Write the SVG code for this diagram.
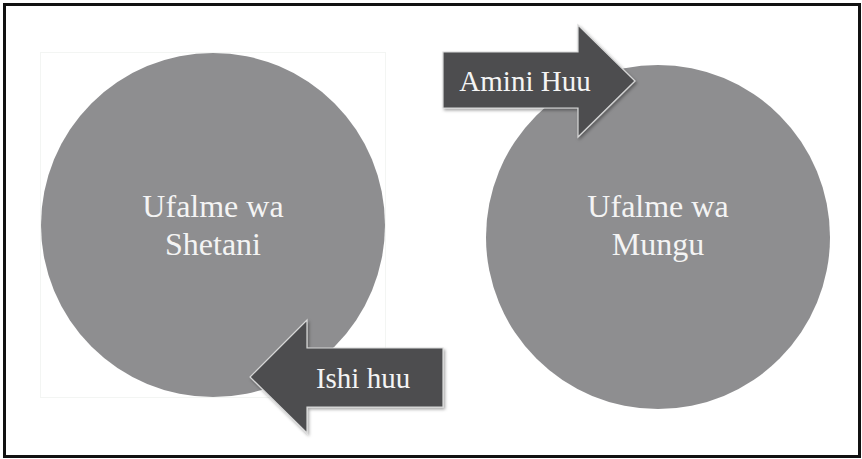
<svg xmlns="http://www.w3.org/2000/svg" width="862" height="459" viewBox="0 0 862 459">
<defs>
<style>
.circ{fill:#8e8e90}
.arr{fill:#4d4e50;stroke:#d8d8d8;stroke-width:1.2;filter:url(#sh)}
.t{font-family:"Liberation Serif","DejaVu Serif",serif;fill:#f4f4f4;text-anchor:middle}
.ct{font-size:32px}
.at{font-size:29px}
</style>
<filter id="sh" x="-10%" y="-10%" width="130%" height="130%">
<feDropShadow dx="1.5" dy="2" stdDeviation="1.5" flood-color="#000" flood-opacity="0.35"/>
</filter>
</defs>
<rect x="0" y="0" width="862" height="459" fill="#fff"/>
<rect x="4.5" y="4.5" width="855" height="452" fill="none" stroke="#111" stroke-width="3"/>
<g id="shetani">
<rect x="40.5" y="52.5" width="345" height="345" fill="none" stroke="#f3f5f3" stroke-width="1"/>
<circle class="circ" cx="213" cy="225" r="172"/>
<text class="t ct" x="213" y="217">Ufalme wa</text>
<text class="t ct" x="213" y="255">Shetani</text>
</g>
<g id="mungu">
<circle class="circ" cx="658" cy="237" r="172"/>
<text class="t ct" x="658" y="217">Ufalme wa</text>
<text class="t ct" x="658" y="255">Mungu</text>
</g>
<g id="connectors">
<g id="amini">
<polygon class="arr" points="443,52 578,52 578,25 635,81 578,137 578,108 443,108"/>
<text class="t at" x="525" y="91">Amini Huu</text>
</g>
<g id="ishi">
<polygon class="arr" points="443,348 307,348 307,320 250,377 307,433 307,407 443,407"/>
<text class="t at" x="363" y="388">Ishi huu</text>
</g>
</g>
</svg>
